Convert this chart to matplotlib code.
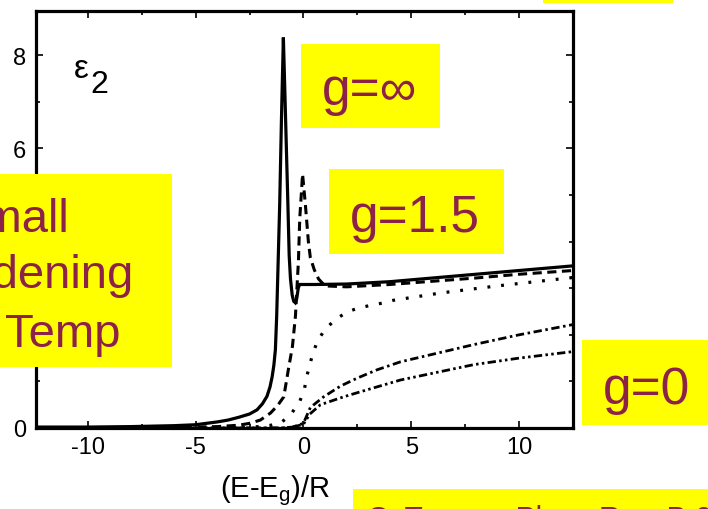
import matplotlib
matplotlib.use("Agg")
import matplotlib.pyplot as plt
from matplotlib.patches import Rectangle
from matplotlib.ticker import MultipleLocator, FixedLocator, FixedFormatter

plt.rcParams['font.family'] = ['Liberation Sans', 'DejaVu Sans']
plt.rcParams['axes.unicode_minus'] = False
plt.rcParams['mathtext.default'] = 'regular'

# epsilon_2 spectra versus reduced energy (E-Eg)/R for several g values
x_inf = [-12.4, -10, -8, -6, -5, -4, -3.5, -3, -2.5, -2.15, -1.9, -1.69, -1.55,
         -1.45, -1.37, -1.3, -1.24, -1.17, -1.1, -1.02, -0.93, -0.86, -0.79,
         -0.72, -0.66, -0.6, -0.52, -0.45, -0.38, -0.31, -0.24, -0.18, 0.5,
         2, 4, 6, 8, 10, 12.5]
y_inf = [0.02, 0.02, 0.03, 0.05, 0.07, 0.13, 0.17, 0.23, 0.3, 0.39, 0.52, 0.68,
         0.88, 1.1, 1.35, 1.68, 2.4, 3.6, 4.8, 6.6, 8.38, 7.2, 6.0, 4.8, 3.7,
         3.2, 2.85, 2.72, 2.69, 2.78, 3.0, 3.08, 3.08, 3.09, 3.14, 3.22, 3.3,
         3.38, 3.48]

x_g15 = [-12.4, -6, -4, -3, -2.5, -2, -1.53, -1.2, -0.91, -0.7, -0.51, -0.37,
         -0.23, -0.17, -0.1, -0.04, 0.03, 0.09, 0.16, 0.23, 0.32, 0.5, 0.7,
         1.0, 2, 4, 6, 8, 10, 12.5]
y_g15 = [0.0, 0.01, 0.03, 0.06, 0.1, 0.17, 0.32, 0.48, 0.67, 1.25, 1.75, 2.4,
         3.6, 4.5, 5.0, 5.45, 5.1, 4.8, 4.4, 4.0, 3.66, 3.4, 3.2, 3.05, 3.03,
         3.08, 3.15, 3.22, 3.3, 3.38]

x_dot = [-12.4, -3, -2, -1.5, -1.0, -0.6, -0.17, 0.05, 0.14, 0.29, 0.43, 0.64,
         0.97, 1.48, 2.03, 2.57, 3.11, 3.65, 4.16, 6.4, 9, 12.5]
y_dot = [0.0, 0.01, 0.03, 0.06, 0.13, 0.28, 0.57, 0.84, 1.08, 1.35, 1.59, 1.85,
         2.1, 2.33, 2.49, 2.58, 2.63, 2.68, 2.74, 2.9, 3.05, 3.23]

x_dd = [-12.4, -1, -0.5, 0.0, 0.32, 0.94, 1.72, 2.49, 3.42, 4.5, 7.9, 10, 12.5]
y_dd = [0.0, 0.0, 0.02, 0.1, 0.44, 0.67, 0.9, 1.07, 1.25, 1.42, 1.79, 2.0, 2.22]

x_g0 = [-12.4, -1, -0.5, 0.0, 0.3, 0.79, 1.87, 2.95, 4.5, 7.9, 10, 12.5]
y_g0 = [0.0, 0.0, 0.02, 0.08, 0.3, 0.5, 0.67, 0.82, 1.03, 1.36, 1.5, 1.64]

x_ticks = [-10, -5, 0, 5, 10]
x_labels = ['-10', '-5', '0', '5', '10']
y_ticks = [0, 6, 8]
y_labels = ['0', '6', '8']

W, H = 708, 510
fig = plt.figure(figsize=(W / 100, H / 100), dpi=100)
fig.patch.set_facecolor('white')

L, R, T, B = 36, 573, 12, 429
ax = fig.add_axes([L / W, 1 - B / H, (R - L) / W, (B - T) / H])
ax.set_xlim(-12.4, 12.5)
ax.set_ylim(0, 8.95)

lw = 2.0
ax.plot(x_inf, y_inf, color='black', lw=2.3, solid_joinstyle='miter')
ax.plot(x_g15, y_g15, color='black', lw=2.2, linestyle=(0, (3.0, 1.8)))
ax.plot(x_dot, y_dot, color='black', lw=2.3, linestyle=(0, (0.9, 3.4)))
ax.plot(x_dd, y_dd, color='black', lw=lw, linestyle=(0, (3.0, 1.3, 0.9, 1.3)))
ax.plot(x_g0, y_g0, color='black', lw=lw,
        linestyle=(0, (3.0, 1.2, 0.9, 1.2, 0.9, 1.2)))

for s in ax.spines.values():
    s.set_linewidth(2.3)

ax.xaxis.set_major_locator(FixedLocator(x_ticks))
ax.xaxis.set_major_formatter(FixedFormatter(x_labels))
ax.xaxis.set_minor_locator(MultipleLocator(2.5))
ax.yaxis.set_major_locator(FixedLocator(y_ticks))
ax.yaxis.set_major_formatter(FixedFormatter(y_labels))
ax.yaxis.set_minor_locator(MultipleLocator(1))
ax.tick_params(which='both', direction='in', top=True, right=True,
               width=1.2, colors='black')
ax.tick_params(which='major', length=5, labelsize=17)
ax.tick_params(which='minor', length=3.2)
ax.tick_params(axis='x', which='major', pad=6)
ax.tick_params(axis='y', which='major', pad=7)

# overlay in pixel coordinates for labels and highlight boxes
ov = fig.add_axes([0, 0, 1, 1], zorder=10)
ov.set_xlim(0, W)
ov.set_ylim(H, 0)
ov.axis('off')
ov.patch.set_alpha(0)

ov.text(74, 78, 'ε', fontsize=24, color='black', va='baseline', ha='left')
ov.text(90, 93, '2', fontsize=23, color='black', va='baseline', ha='left')
ov.text(220, 497, '(E-$E_g$)/R', fontsize=21, color='black',
        va='baseline', ha='left')

yellow = '#FFFF00'
maroon = '#8C2248'
boxes = [(301, 45, 440, 129), (329, 170, 504, 255), (582, 341, 708, 426),
         (0, 175, 172, 368), (543, 0, 673, 4), (353, 490, 708, 510)]
for x0, y0, x1, y1 in boxes:
    ov.add_patch(Rectangle((x0, y0), x1 - x0, y1 - y0, facecolor=yellow,
                           edgecolor='none', clip_on=False))

ov.text(322, 105, 'g=∞', fontsize=37, color=maroon, va='baseline', ha='left')
ov.text(350, 232, 'g=1.5', fontsize=37, color=maroon, va='baseline', ha='left')
ov.text(603, 404, 'g=0', fontsize=37, color=maroon, va='baseline', ha='left')

ov.text(70, 232, 'Small', fontsize=34, color=maroon, va='baseline', ha='right')
ov.text(133, 288, 'broadening', fontsize=34, color=maroon, va='baseline', ha='right')
ov.text(120, 347, 'Low Temp', fontsize=34, color=maroon, va='baseline', ha='right')

ov.text(367, 527, 'C. Tanguy, Phys. Rev. B 60', fontsize=21.5, color=maroon,
        va='baseline', ha='left')

fig.savefig('out.png', dpi=100)
